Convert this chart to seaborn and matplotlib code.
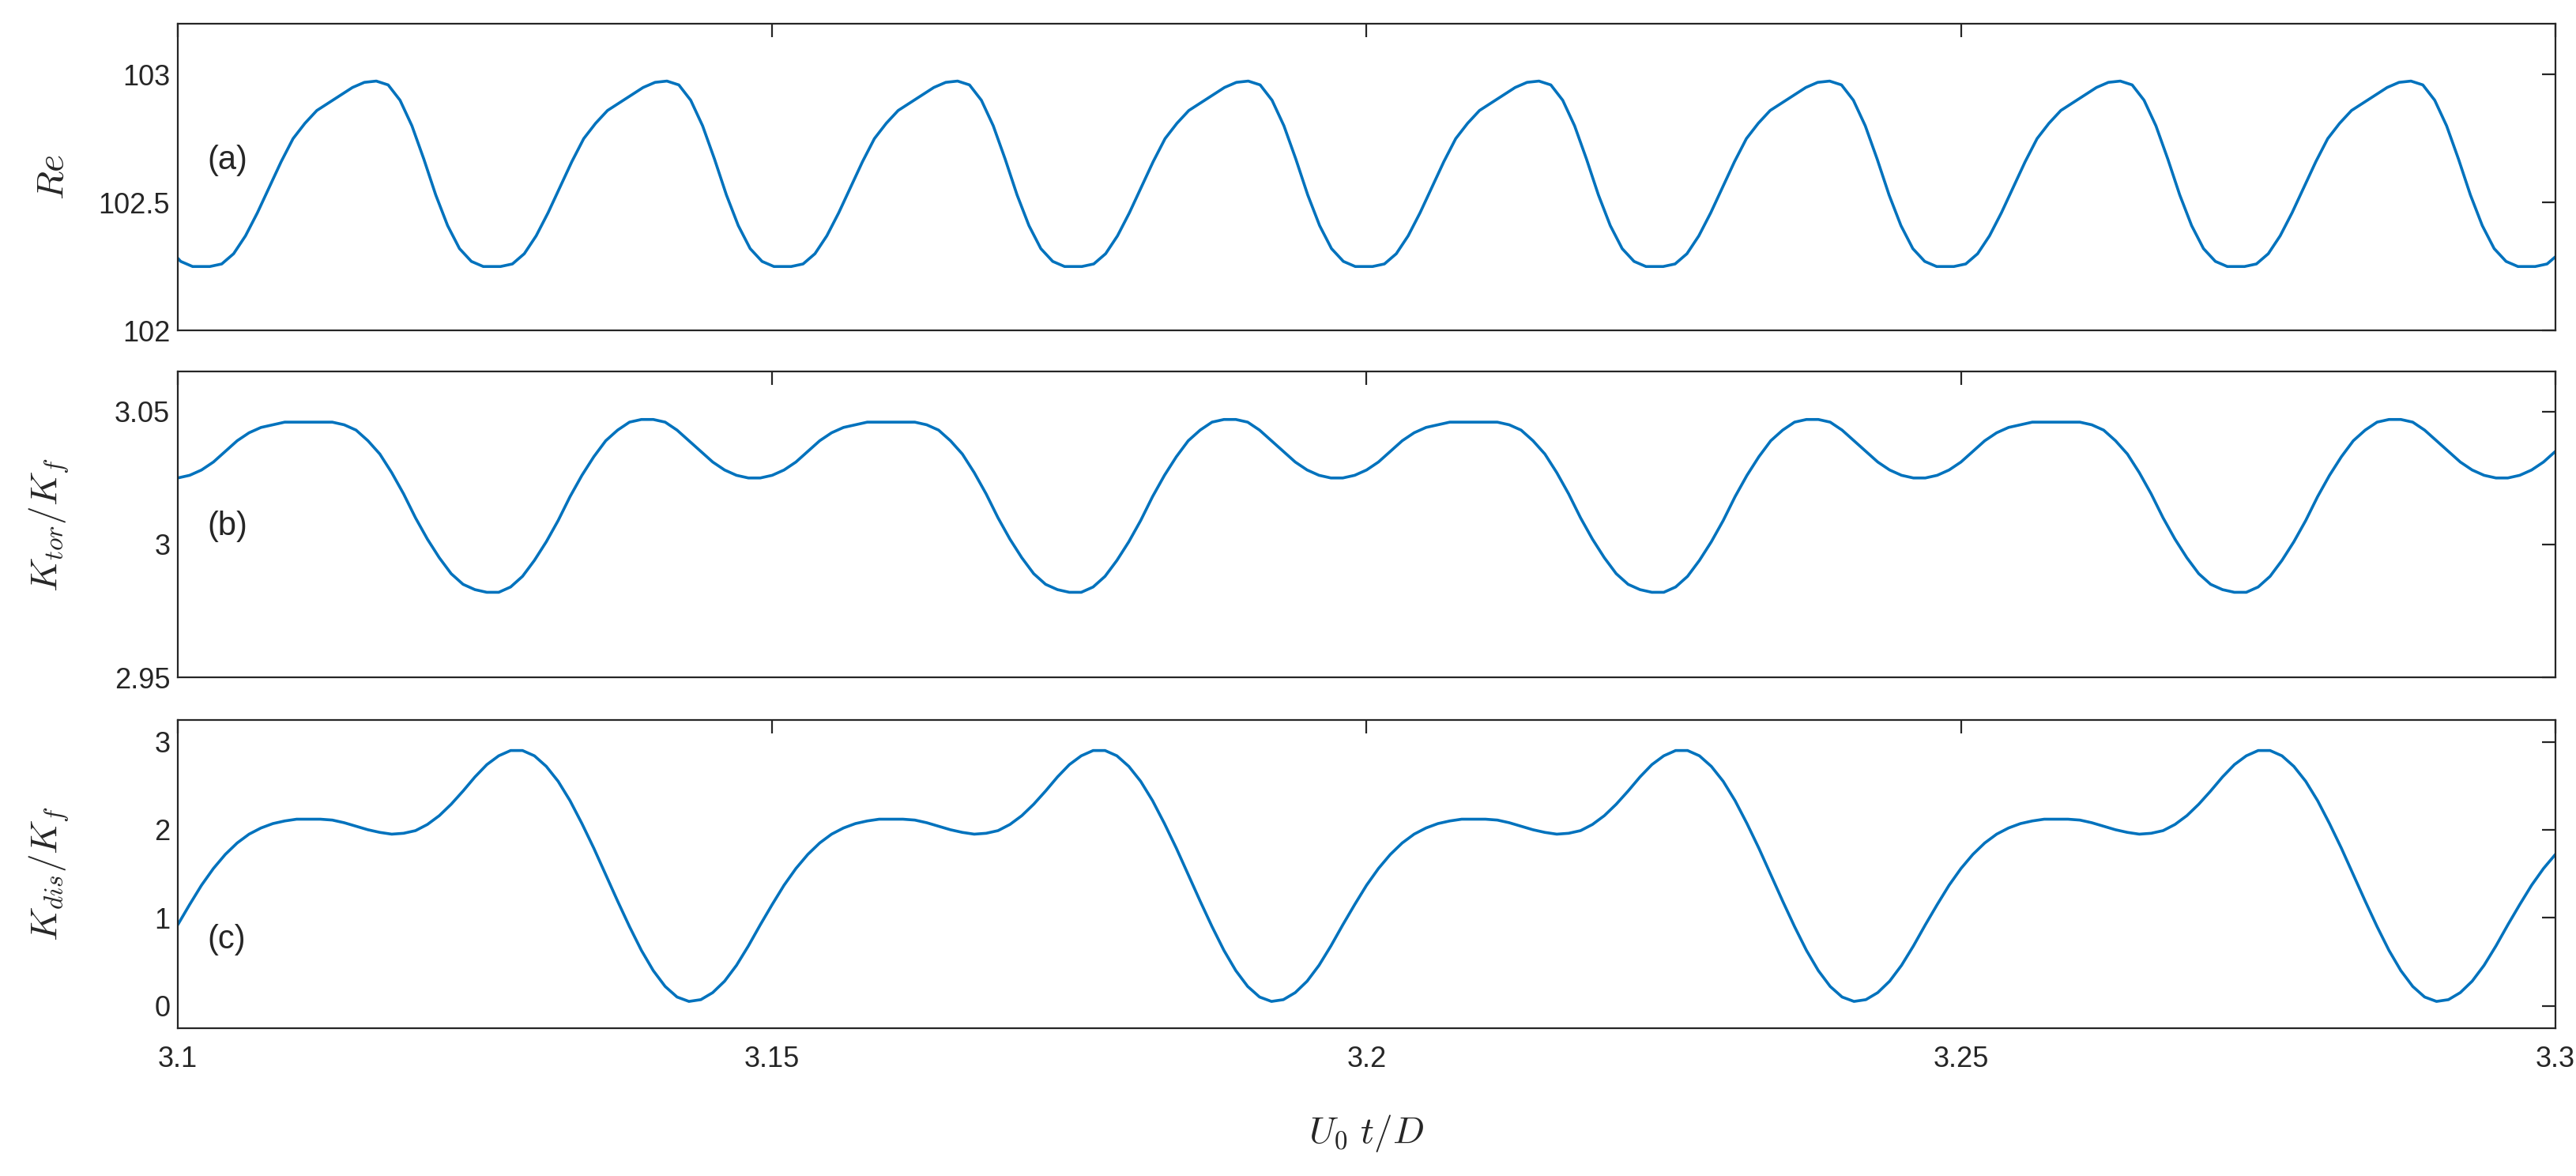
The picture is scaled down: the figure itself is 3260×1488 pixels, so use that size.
import numpy as np
import matplotlib
matplotlib.use("Agg")
import matplotlib.pyplot as plt
import seaborn as sns
import pandas as pd

sns.set_theme(style="white")
plt.rcParams['font.family'] = ['Liberation Sans', 'DejaVu Sans']
plt.rcParams['mathtext.fontset'] = 'cm'

# Panel (a): one Re cycle, values every 1 ms after the start time
re_period = 0.02445
re_t0 = 3.1027
re_vals = [102.25, 102.26, 102.30, 102.37, 102.46, 102.56, 102.66, 102.75, 102.81, 102.86,
           102.89, 102.92, 102.95, 102.97, 102.975, 102.96, 102.90, 102.80, 102.67, 102.53,
           102.41, 102.32, 102.27, 102.25, 102.25]

# Panel (b): one Ktor/Kf cycle, values every 1 ms
kt_period = 0.049
kt_t0 = 3.100
kt_vals = [3.025, 3.026, 3.028, 3.031, 3.035, 3.039, 3.042, 3.044, 3.045, 3.046,
           3.046, 3.046, 3.046, 3.046, 3.045, 3.043, 3.039, 3.034, 3.027, 3.019,
           3.010, 3.002, 2.995, 2.989, 2.985, 2.983, 2.982, 2.982, 2.984, 2.988,
           2.994, 3.001, 3.009, 3.018, 3.026, 3.033, 3.039, 3.043, 3.046, 3.047,
           3.047, 3.046, 3.043, 3.039, 3.035, 3.031, 3.028, 3.026, 3.025]

# Panel (c): one Kdis/Kf cycle, values every 1 ms
kd_period = 0.049
kd_t0 = 3.100
kd_vals = [0.92, 1.15, 1.37, 1.56, 1.72, 1.85, 1.95, 2.02, 2.07, 2.10,
           2.12, 2.12, 2.12, 2.11, 2.08, 2.04, 2.00, 1.97, 1.95, 1.96,
           1.99, 2.06, 2.16, 2.29, 2.44, 2.60, 2.74, 2.84, 2.90, 2.90,
           2.84, 2.72, 2.55, 2.33, 2.07, 1.79, 1.49, 1.19, 0.90, 0.63,
           0.40, 0.22, 0.10, 0.05, 0.07, 0.15, 0.28, 0.46, 0.68]

def tile(t0, period, vals, nper):
    t, v = [], []
    for k in range(nper):
        for j, y in enumerate(vals):
            t.append(t0 + k * period + j * 0.001)
            v.append(y)
    return np.array(t), np.array(v)

ta, va = tile(re_t0 - re_period, re_period, re_vals, 11)
tb, vb = tile(kt_t0, kt_period, kt_vals, 5)
tc, vc = tile(kd_t0, kd_period, kd_vals, 5)

color = '#0072BD'
fig = plt.figure(figsize=(16.3, 7.44), dpi=200)
boxes = [(0.069, 0.719, 0.923, 0.261), (0.069, 0.424, 0.923, 0.260), (0.069, 0.126, 0.923, 0.262)]
series = [(ta, va), (tb, vb), (tc, vc)]
ylims = [(102, 103.2), (2.95, 3.065), (-0.25, 3.25)]
yticks = [([102, 102.5, 103], ['102', '102.5', '103']),
          ([2.95, 3, 3.05], ['2.95', '3', '3.05']),
          ([0, 1, 2, 3], ['0', '1', '2', '3'])]
ylabels = [r'$Re$', r'$K_{tor}/K_f$', r'$K_{dis}/K_f$']
tags = ['(a)', '(b)', '(c)']
tagy = [102.63, 3.0035, 0.65]
for i in range(3):
    ax = fig.add_axes(boxes[i])
    df = pd.DataFrame({'t': series[i][0], 'v': series[i][1]})
    sns.lineplot(data=df, x='t', y='v', ax=ax, color=color, lw=1.3, sort=False, estimator=None)
    ax.set_xlim(3.1, 3.3)
    ax.set_ylim(*ylims[i])
    ax.set_yticks(yticks[i][0])
    ax.set_yticklabels(yticks[i][1], fontsize=13)
    ax.set_xticks([3.1, 3.15, 3.2, 3.25, 3.3])
    ax.set_ylabel(ylabels[i], fontsize=17)
    ax.yaxis.set_label_coords(-0.045, 0.5)
    ax.set_xlabel('')
    ax.tick_params(direction='in', top=True, right=True, length=6, width=0.8, color='#262626')
    if i < 2:
        ax.set_xticklabels([])
    else:
        ax.set_xticklabels(['3.1', '3.15', '3.2', '3.25', '3.3'], fontsize=13)
        ax.tick_params(axis='x', pad=8)
        ax.set_xlabel(r'$U_0\ t/D$', fontsize=17, labelpad=18)
    for s in ax.spines.values():
        s.set_color('#262626'); s.set_linewidth(0.8)
    ax.text(3.1025, tagy[i], tags[i], fontsize=15)
fig.savefig('out.png', dpi=200)
